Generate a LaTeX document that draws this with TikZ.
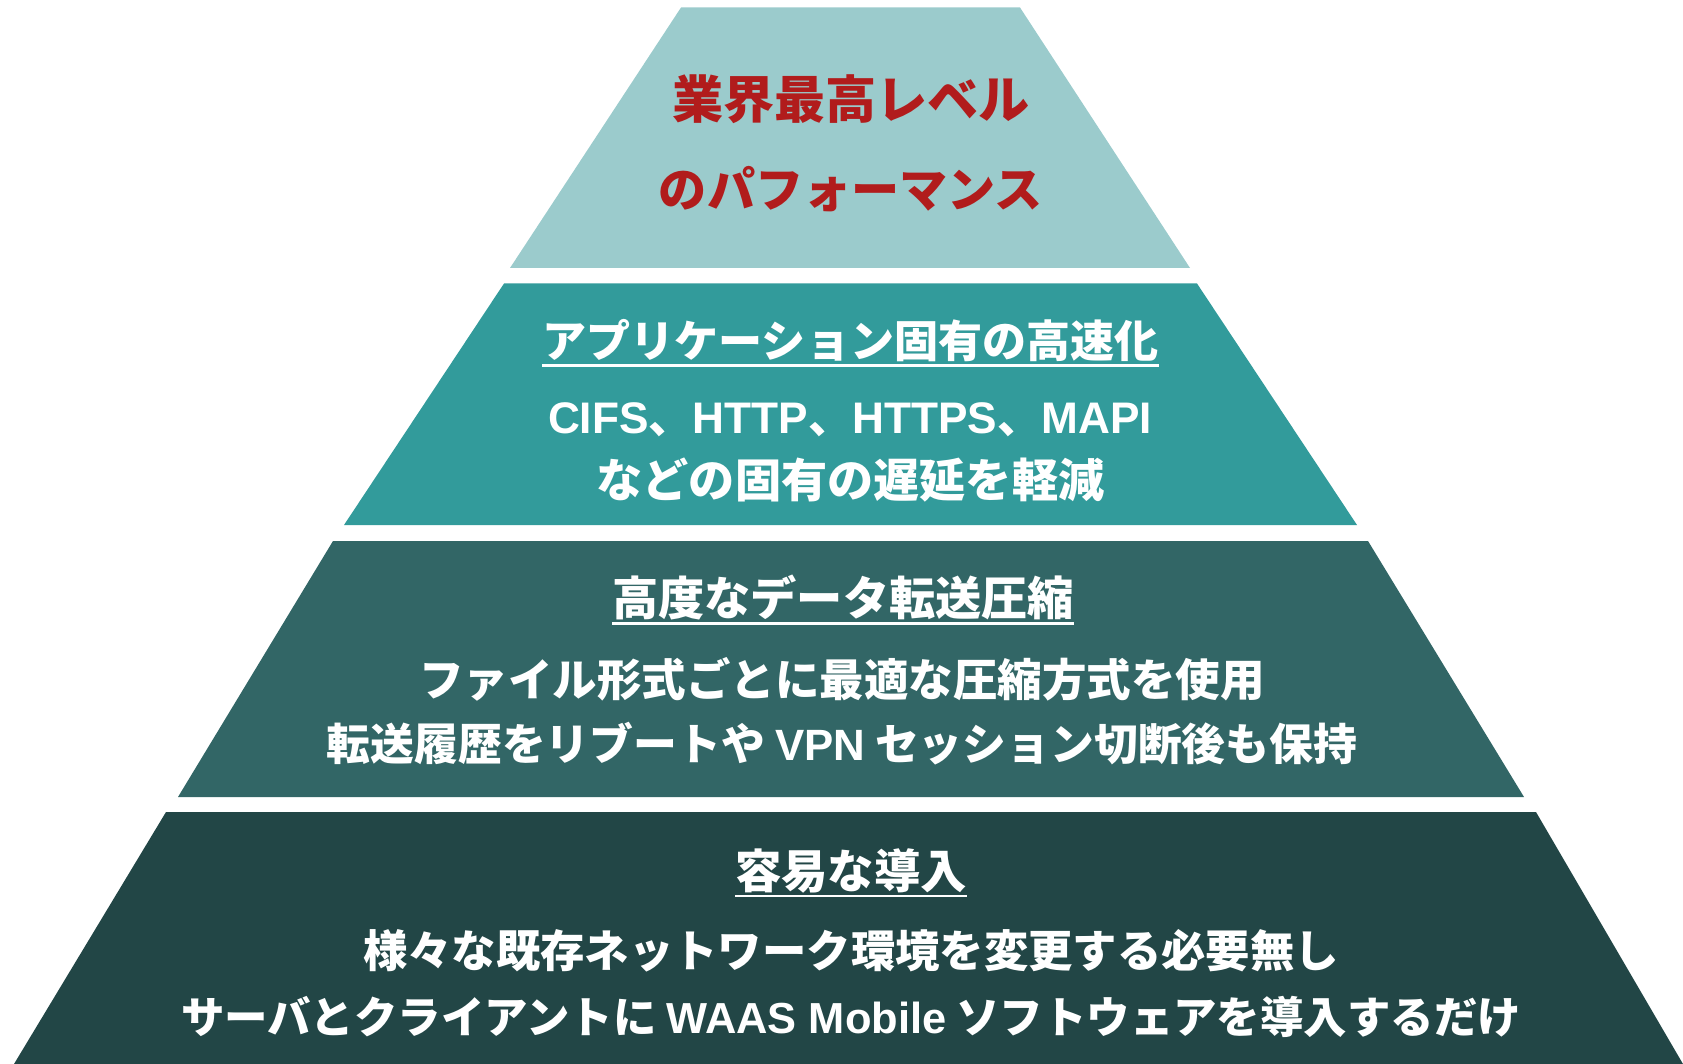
\documentclass[tikz,border=0pt]{standalone}
\usepackage{fontspec}
\usepackage{graphicx}
\newfontfamily\jp{Noto Sans CJK JP}
\newfontfamily\lat{Liberation Sans}
\definecolor{tierA}{HTML}{9BCBCC}
\definecolor{tierB}{HTML}{329B9B}
\definecolor{tierC}{HTML}{326666}
\definecolor{tierD}{HTML}{224646}
\definecolor{titlered}{HTML}{B11C1C}
\newcommand\fitw[2]{\resizebox{#1}{!}{#2}}
\begin{document}
\begin{tikzpicture}[x=1pt,y=-1pt,
  txt/.style={inner sep=0pt, outer sep=0pt, text=white, font=\jp\bfseries\fontsize{44}{50}\selectfont},
  uline/.style={draw=white, line width=2.6pt}]
\useasboundingbox (0,0) rectangle (1683,1064);
% tiers
\fill[tierA] (681,7.5) -- (1020,7.5) -- (1190,268) -- (510,268) -- cycle;
\fill[tierB] (504,283.5) -- (1197,283.5) -- (1357,525) -- (344,525) -- cycle;
\fill[tierC] (333,541) -- (1368,541) -- (1524,797) -- (178,797) -- cycle;
\fill[tierD] (166,812) -- (1536,812) -- (1683,1064) -- (14,1064) -- cycle;
% tier 1
\node[txt, text=titlered] (t1a) at (851,99) {\fitw{358pt}{業界最高レベル}};
\node[txt, text=titlered] (t1b) at (851,189) {\fitw{384pt}{のパフォーマンス}};
% tier 2
\node[txt] (h2) at (850.5,341) {\fitw{616pt}{アプリケーション固有の高速化}};
\draw[uline] ([yshift=-3pt]h2.south west) -- ([yshift=-3pt]h2.south east);
\node[txt] (t2a) at (850,420) {\fitw{604pt}{{\lat CIFS}、{\lat HTTP}、{\lat HTTPS}、{\lat MAPI}}};
\node[txt] (t2b) at (850.5,480) {\fitw{508pt}{などの固有の遅延を軽減}};
% tier 3
\node[txt] (h3) at (843,598) {\fitw{462pt}{高度なデータ転送圧縮}};
\draw[uline] ([yshift=-3pt]h3.south west) -- ([yshift=-3pt]h3.south east);
\node[txt] (t3a) at (842,679) {\fitw{846pt}{ファイル形式ごとに最適な圧縮方式を使用}};
\node[txt] (t3b) at (842,744) {\fitw{1030pt}{転送履歴をリブートや {\lat VPN} セッション切断後も保持}};
% tier 4
\node[txt] (h4) at (851,871) {\fitw{232pt}{容易な導入}};
\draw[uline] ([yshift=-2.5pt]h4.south west) -- ([yshift=-2.5pt]h4.south east);
\node[txt] (t4a) at (851,951) {\fitw{976pt}{様々な既存ネットワーク環境を変更する必要無し}};
\node[txt] (t4b) at (851,1017) {\fitw{1340pt}{サーバとクライアントに {\lat WAAS Mobile} ソフトウェアを導入するだけ}};
\end{tikzpicture}
\end{document}
